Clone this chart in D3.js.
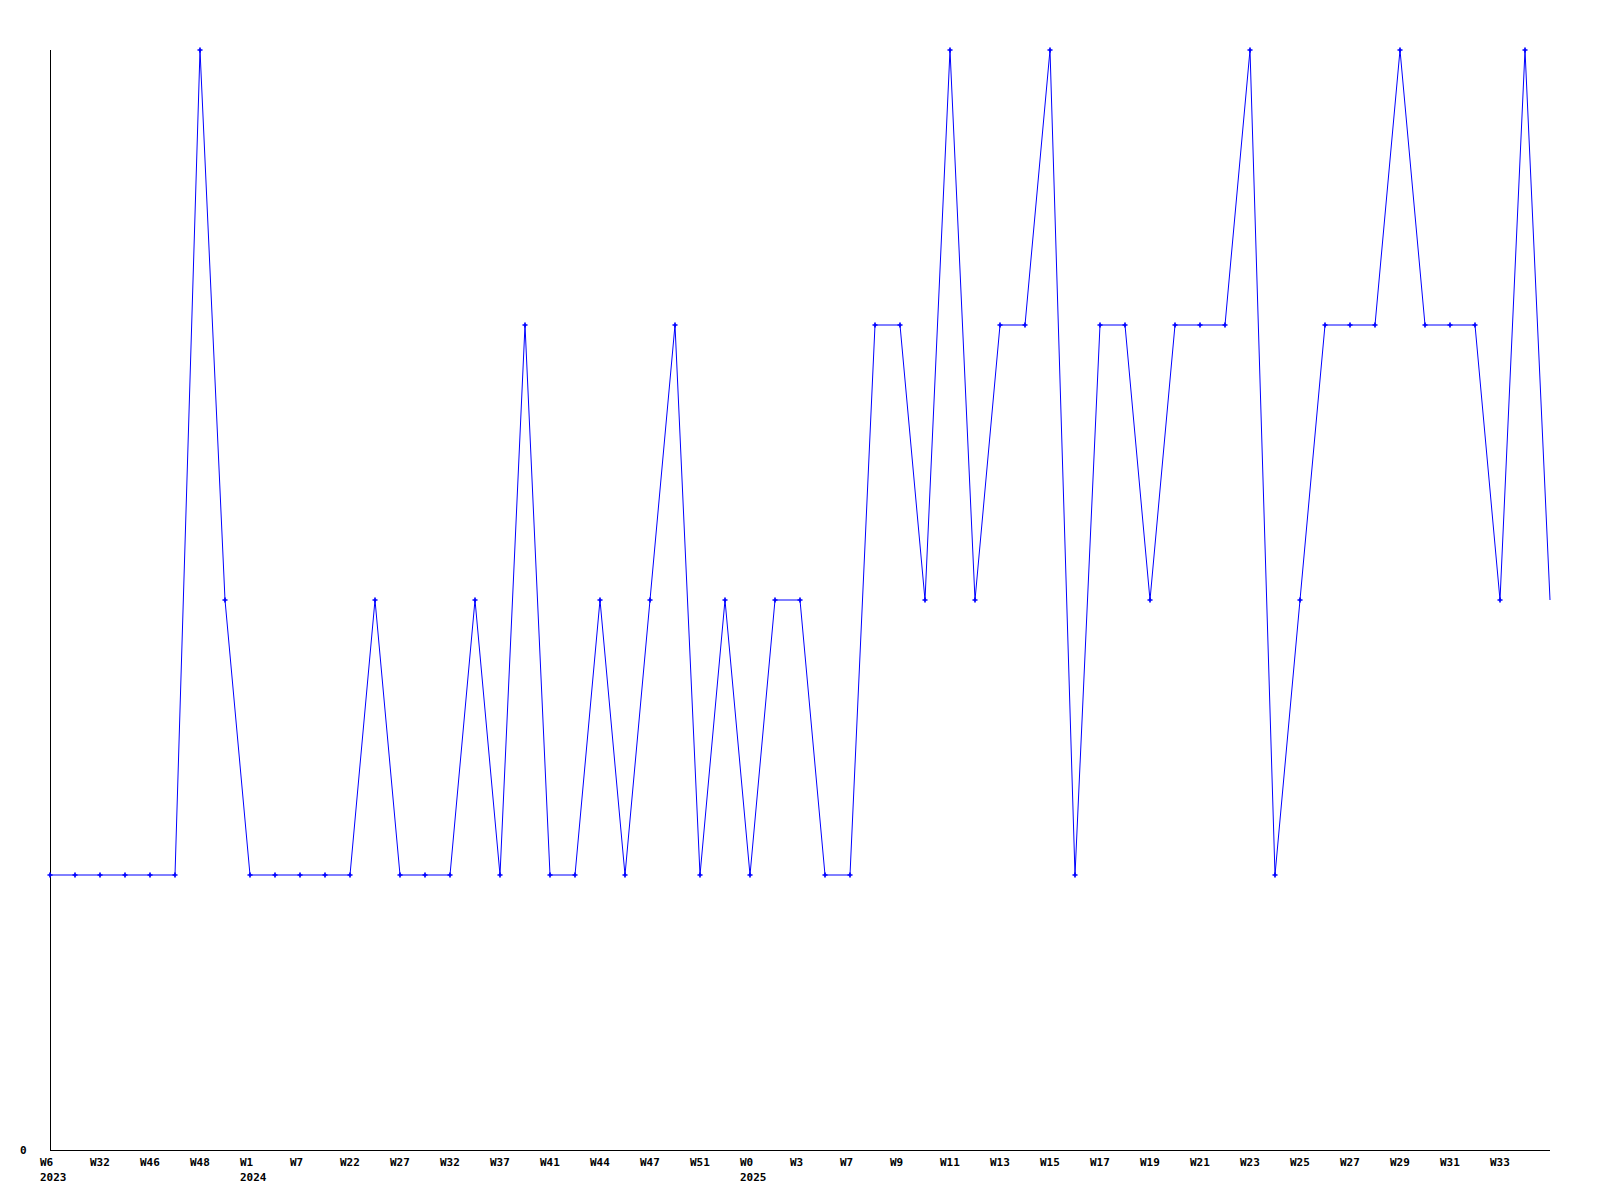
<!DOCTYPE html>
<html><head><meta charset="utf-8">
<script src="https://cdn.jsdelivr.net/npm/d3@7"></script>
<style>body{margin:0;background:#fff}svg text{font-family:"DejaVu Sans Mono",monospace;font-weight:bold;font-size:11px;fill:#000}</style>
</head><body><svg id="c" width="1600" height="1200"></svg>
<script>
const values = [1,1,1,1,1,1,4,2,1,1,1,1,1,2,1,1,1,2,1,3,1,1,2,1,2,3,1,2,1,2,2,1,1,3,3,2,4,2,3,3,4,1,3,3,2,3,3,3,4,1,2,3,3,3,4,3,3,3,2,4,2];
const tickLabels = ["W6","W32","W46","W48","W1","W7","W22","W27","W32","W37","W41","W44","W47","W51","W0","W3","W7","W9","W11","W13","W15","W17","W19","W21","W23","W25","W27","W29","W31","W33"];
const yearLabels = {0:"2023",4:"2024",14:"2025"};
const yTicks = [0];

const svg = d3.select("#c");
const x = d3.scaleLinear().domain([0, values.length - 1]).range([50, 1550]);
const y = d3.scaleLinear().domain([0, d3.max(values)]).range([1150, 50]);

// axes
svg.append("line").attr("x1", x(0)).attr("x2", x(0)).attr("y1", y(d3.max(values))).attr("y2", y(0)).attr("stroke","#000").attr("shape-rendering","crispEdges");
svg.append("line").attr("x1", x(0)).attr("x2", x(values.length-1)).attr("y1", y(0)).attr("y2", y(0)).attr("stroke","#000").attr("shape-rendering","crispEdges");

svg.selectAll("text.y").data(yTicks).join("text").attr("class","y")
  .attr("x", 20).attr("y", d => y(d) + 4).text(d => d);

const tg = svg.selectAll("g.t").data(tickLabels).join("g").attr("class","t")
  .attr("transform", (d,i) => `translate(${x(i*2) - 10},0)`);
tg.append("text").attr("y", 1166).text(d => d);
tg.append("text").attr("y", 1181).text((d,i) => yearLabels[i] || "");

// line
svg.append("path").datum(values)
  .attr("d", d3.line().x((d,i) => x(i)).y(d => y(d)))
  .attr("fill","none").attr("stroke","#0000ff").attr("stroke-width",1);

// markers (last point has none)
svg.selectAll("path.m").data(values.slice(0, -1)).join("path").attr("class","m")
  .attr("transform", (d,i) => `translate(${x(i)},${y(d)})`)
  .attr("d", d3.symbol().type(d3.symbolCross).size(14))
  .attr("fill","#0000ff");
</script></body></html>
